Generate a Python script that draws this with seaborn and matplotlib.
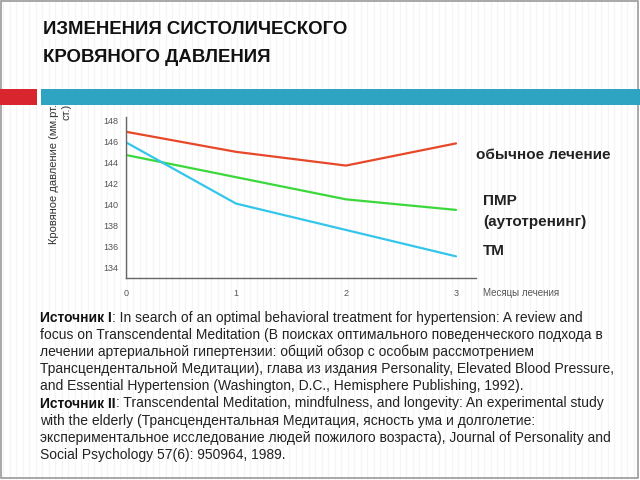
import matplotlib
matplotlib.use("Agg")
import matplotlib.pyplot as plt
import numpy as np
import pandas as pd
import seaborn as sns
from matplotlib.patches import Rectangle

# values
months = [0, 1, 2, 3]
usual_care = [146.9, 145.0, 143.7, 145.8]
pmr = [144.7, 142.6, 140.5, 139.5]
tm = [145.9, 140.1, 137.6, 135.1]

group_names = ["обычное лечение", "ПМР (аутотренинг)", "ТМ"]
group_colors = ["#e8482a", "#3ad83a", "#33c6ea"]
y_ticks = [134, 136, 138, 140, 142, 144, 146, 148]

title_lines = ["ИЗМЕНЕНИЯ СИСТОЛИЧЕСКОГО", "КРОВЯНОГО ДАВЛЕНИЯ"]
y_label = "Кровяное давление (мм.рт.\nст.)"
x_label = "Месяцы лечения"

source_lines = [
    ("Источник I", ": In search of an optimal behavioral treatment for hypertension: A review and"),
    ("", "focus on Transcendental Meditation (В поисках оптимального поведенческого подхода в"),
    ("", "лечении артериальной гипертензии: общий обзор с особым рассмотрением"),
    ("", "Трансцендентальной Медитации), глава из издания Personality, Elevated Blood Pressure,"),
    ("", "and Essential Hypertension (Washington, D.C., Hemisphere Publishing, 1992)."),
    ("Источник II", ": Transcendental Meditation, mindfulness, and longevity: An experimental study"),
    ("", "with the elderly (Трансцендентальная Медитация, ясность ума и долголетие:"),
    ("", "экспериментальное исследование людей пожилого возраста), Journal of Personality and"),
    ("", "Social Psychology 57(6): 950964, 1989."),
]

df = pd.DataFrame({
    "month": months * 3,
    "pressure": usual_care + pmr + tm,
    "group": [g for g in group_names for _ in months],
})

sns.set_style("white")
plt.rcParams["font.family"] = ["Liberation Sans", "DejaVu Sans"]

fig = plt.figure(figsize=(6.4, 4.8), dpi=100)

# faint slide texture + frame + header bars
bg = fig.add_axes([0, 0, 1, 1], zorder=-10)
bg.set_xlim(0, 640)
bg.set_ylim(480, 0)
bg.axis("off")
for sx in np.arange(3, 640, 6.5):
    bg.axvline(sx, color="#f5f5f5", lw=1, zorder=0)
bg.add_patch(Rectangle((1, 1), 637, 477, fill=False, ec="#9a9a9a", lw=1.2, zorder=3))
bg.add_patch(Rectangle((0, 89), 37, 16, color="#d9262e", lw=0, zorder=3))
bg.add_patch(Rectangle((41, 89), 599, 16, color="#2fa3c2", lw=0, zorder=3))

fig.text(43 / 640, 1 - 30 / 480, title_lines[0], fontsize=13.4, fontweight="bold",
         color="#111111", va="center", ha="left")
fig.text(43 / 640, 1 - 58 / 480, title_lines[1], fontsize=13.4, fontweight="bold",
         color="#111111", va="center", ha="left")

ax = fig.add_axes([126 / 640, 1 - 278 / 480, 350 / 640, 161 / 480])
ax.patch.set_alpha(0)
sns.lineplot(data=df, x="month", y="pressure", hue="group",
             palette=dict(zip(group_names, group_colors)), linewidth=1.6,
             legend=False, ax=ax)

ax.set_xlim(0, 3 * 350 / 330)
ax.set_ylim(133.05, 148.3)
ax.set_xticks(months)
ax.set_yticks(y_ticks)
ax.set_xlabel("")
ax.set_ylabel("")
for side in ["top", "right"]:
    ax.spines[side].set_visible(False)
for side in ["left", "bottom"]:
    ax.spines[side].set_color("#666666")
    ax.spines[side].set_linewidth(1)
ax.tick_params(axis="x", direction="inout", length=8, width=1, color="#666666",
               labelsize=6.5, labelcolor="#555555", pad=4)
ax.tick_params(axis="y", direction="out", length=3.5, width=1, color="#666666",
               labelsize=6.5, labelcolor="#555555", pad=2)

fig.text(60 / 640, 1 - 104 / 480, y_label, rotation=90, fontsize=8, color="#333333",
         ha="center", va="top", multialignment="right", linespacing=1.3)

fig.text(476 / 640, 1 - 155 / 480, group_names[0], fontsize=11, fontweight="bold",
         color="#222222", va="center", ha="left")
fig.text(483 / 640, 1 - 201 / 480, "ПМР", fontsize=11, fontweight="bold",
         color="#222222", va="center", ha="left")
fig.text(483 / 640, 1 - 222 / 480, "(аутотренинг)", fontsize=11, fontweight="bold",
         color="#222222", va="center", ha="left")
fig.text(483 / 640, 1 - 251 / 480, group_names[2], fontsize=11, fontweight="bold",
         color="#222222", va="center", ha="left")
fig.text(483 / 640, 1 - 293 / 480, x_label, fontsize=7, color="#555555",
         va="center", ha="left")

# sources block, bold lead-in followed by regular text
y0, step = 318, 17.1
for i, (lead, rest) in enumerate(source_lines):
    y = 1 - (y0 + i * step) / 480
    if lead:
        t = fig.text(40 / 640, y, lead, fontsize=10, fontweight="bold",
                     color="#111111", va="center", ha="left")
        ax.annotate(rest, xy=(1, 0), xycoords=t, fontsize=10, color="#222222",
                    va="bottom", ha="left", annotation_clip=False)
    else:
        fig.text(40 / 640, y, rest, fontsize=10, color="#222222", va="center", ha="left")

fig.savefig("out.png", dpi=100)
